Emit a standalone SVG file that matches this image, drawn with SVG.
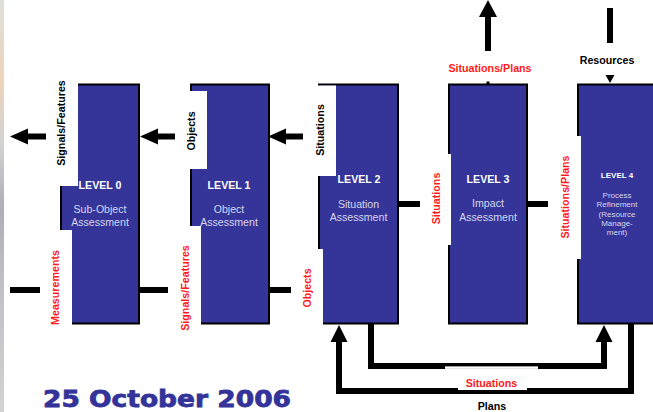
<svg xmlns="http://www.w3.org/2000/svg" width="653" height="412" viewBox="0 0 653 412">
<defs>
<style>
.box{fill:#343499;stroke:#000;stroke-width:2}
.wh{fill:#fff}
.lv{font-family:"Liberation Sans",Arial,sans-serif;font-weight:bold;font-size:10.6px;fill:#fff;text-anchor:middle}
.ds{font-family:"Liberation Sans",Arial,sans-serif;font-size:10.6px;fill:#d6d6ee;text-anchor:middle}
.lb{font-family:"Liberation Sans",Arial,sans-serif;font-weight:bold;font-size:10.7px;fill:#000;text-anchor:middle}
.lr{font-family:"Liberation Sans",Arial,sans-serif;font-weight:bold;font-size:10.7px;fill:#ff1a1a;text-anchor:middle}
.ln{fill:none;stroke:#000;stroke-width:6}
.ah{fill:#000}
</style>
<linearGradient id="strip" x1="0" y1="0" x2="0" y2="1">
<stop offset="0" stop-color="#d8d8d0"/>
<stop offset="0.2" stop-color="#e8c8a8"/>
<stop offset="0.35" stop-color="#c8c8c8"/>
<stop offset="0.5" stop-color="#9a9aa8"/>
<stop offset="0.7" stop-color="#b0b0b8"/>
<stop offset="1" stop-color="#c8c8c8"/>
</linearGradient>
</defs>
<rect x="0" y="0" width="653" height="412" fill="#fff"/>
<rect x="0" y="0" width="4" height="412" fill="url(#strip)" opacity="0.8"/>

<g id="level0">
<rect class="box" x="61" y="84.5" width="78" height="239"/>
<rect class="wh" x="59" y="82" width="19" height="104"/>
<rect class="wh" x="59" y="230" width="13" height="96"/>
<text class="lv" x="100" y="189">LEVEL 0</text>
<text class="ds" x="100" y="213">Sub-Object</text>
<text class="ds" x="100" y="226">Assessment</text>
</g>

<g id="level1">
<rect class="box" x="191" y="84.5" width="78" height="239"/>
<rect class="wh" x="189" y="91" width="18" height="78"/>
<rect class="wh" x="189" y="226" width="12" height="100"/>
<text class="lv" x="229" y="189">LEVEL 1</text>
<text class="ds" x="229" y="213">Object</text>
<text class="ds" x="229" y="226">Assessment</text>
</g>

<g id="level2">
<rect class="box" x="319" y="84.5" width="79" height="239"/>
<rect class="wh" x="317" y="85.5" width="19" height="90.5"/>
<rect class="wh" x="317" y="249" width="6" height="77"/>
<text class="lv" x="359" y="183">LEVEL 2</text>
<text class="ds" x="358.5" y="208">Situation</text>
<text class="ds" x="358.5" y="221">Assessment</text>
</g>

<g id="level3">
<rect class="box" x="449" y="84.5" width="78" height="239"/>
<rect class="wh" x="447" y="154" width="4" height="91"/>
<text class="lv" x="488" y="183">LEVEL 3</text>
<text class="ds" x="488" y="207">Impact</text>
<text class="ds" x="488" y="221">Assessment</text>
</g>

<g id="level4">
<rect class="box" x="578" y="84.5" width="100" height="239"/>
<rect class="wh" x="576" y="136" width="5" height="123"/>
<text class="lv" x="617" y="178" style="font-size:8px">LEVEL 4</text>
<g class="ds" style="font-size:8px">
<text x="617" y="198">Process</text>
<text x="617" y="207">Refinement</text>
<text x="617" y="217">(Resource</text>
<text x="617" y="226">Manage-</text>
<text x="617" y="235">ment)</text>
</g>
</g>

<g id="connectors">
<line class="ln" x1="26" y1="136.5" x2="46" y2="136.5"/>
<polygon class="ah" points="10,136.5 28,128.5 28,144.5"/>
<line class="ln" x1="156" y1="136.5" x2="175" y2="136.5"/>
<polygon class="ah" points="140,136.5 158,128.5 158,144.5"/>
<line class="ln" x1="284" y1="136.5" x2="303" y2="136.5"/>
<polygon class="ah" points="268,136.5 286,128.5 286,144.5"/>
<line class="ln" x1="10" y1="290" x2="40" y2="290"/>
<line class="ln" x1="140" y1="290" x2="168" y2="290"/>
<line class="ln" x1="270" y1="290" x2="291" y2="290"/>
<line class="ln" x1="399" y1="204" x2="420" y2="204"/>
<line class="ln" x1="528" y1="204" x2="548" y2="204"/>
<line class="ln" x1="488" y1="15" x2="488" y2="51"/>
<polygon class="ah" points="488,0 479,17 497,17"/>
<line x1="488" y1="81.5" x2="488" y2="84" stroke="#000" stroke-width="3"/>
<line class="ln" x1="610" y1="8" x2="610" y2="43"/>
<polygon class="ah" points="610,83 605.5,75 614.5,75"/>
<polyline class="ln" points="339,340 339,391 631,391 631,324"/>
<polygon class="ah" points="339,325 330.5,342 347.5,342"/>
<polyline class="ln" points="371,324 371,366 604,366 604,340"/>
<polygon class="ah" points="604,325 595.5,342 612.5,342"/>
<rect class="wh" x="445" y="366.4" width="93" height="2.5"/>
<rect class="wh" x="458" y="387.8" width="69" height="2.2"/>
</g>

<g id="labels">
<text class="lb" transform="translate(65,123) rotate(-90)">Signals/Features</text>
<text class="lr" transform="translate(59,287.5) rotate(-90)">Measurements</text>
<text class="lb" transform="translate(194.5,131) rotate(-90)">Objects</text>
<text class="lr" transform="translate(189,288) rotate(-90)">Signals/Features</text>
<text class="lb" transform="translate(324,130) rotate(-90)">Situations</text>
<text class="lr" transform="translate(311,288) rotate(-90)">Objects</text>
<text class="lr" transform="translate(440,198.5) rotate(-90)">Situations</text>
<text class="lr" transform="translate(569,197) rotate(-90)">Situations/Plans</text>
<text class="lr" x="490" y="71.5">Situations/Plans</text>
<text class="lb" x="607" y="63.5">Resources</text>
<text class="lr" x="491.5" y="387">Situations</text>
<text class="lb" x="492" y="410">Plans</text>
</g>

<text x="167" y="407" font-family="'DejaVu Sans',sans-serif" font-weight="bold" font-size="23" fill="#333399" stroke="#333399" stroke-width="0.8" text-anchor="middle" textLength="248" lengthAdjust="spacingAndGlyphs">25 October 2006</text>
</svg>
